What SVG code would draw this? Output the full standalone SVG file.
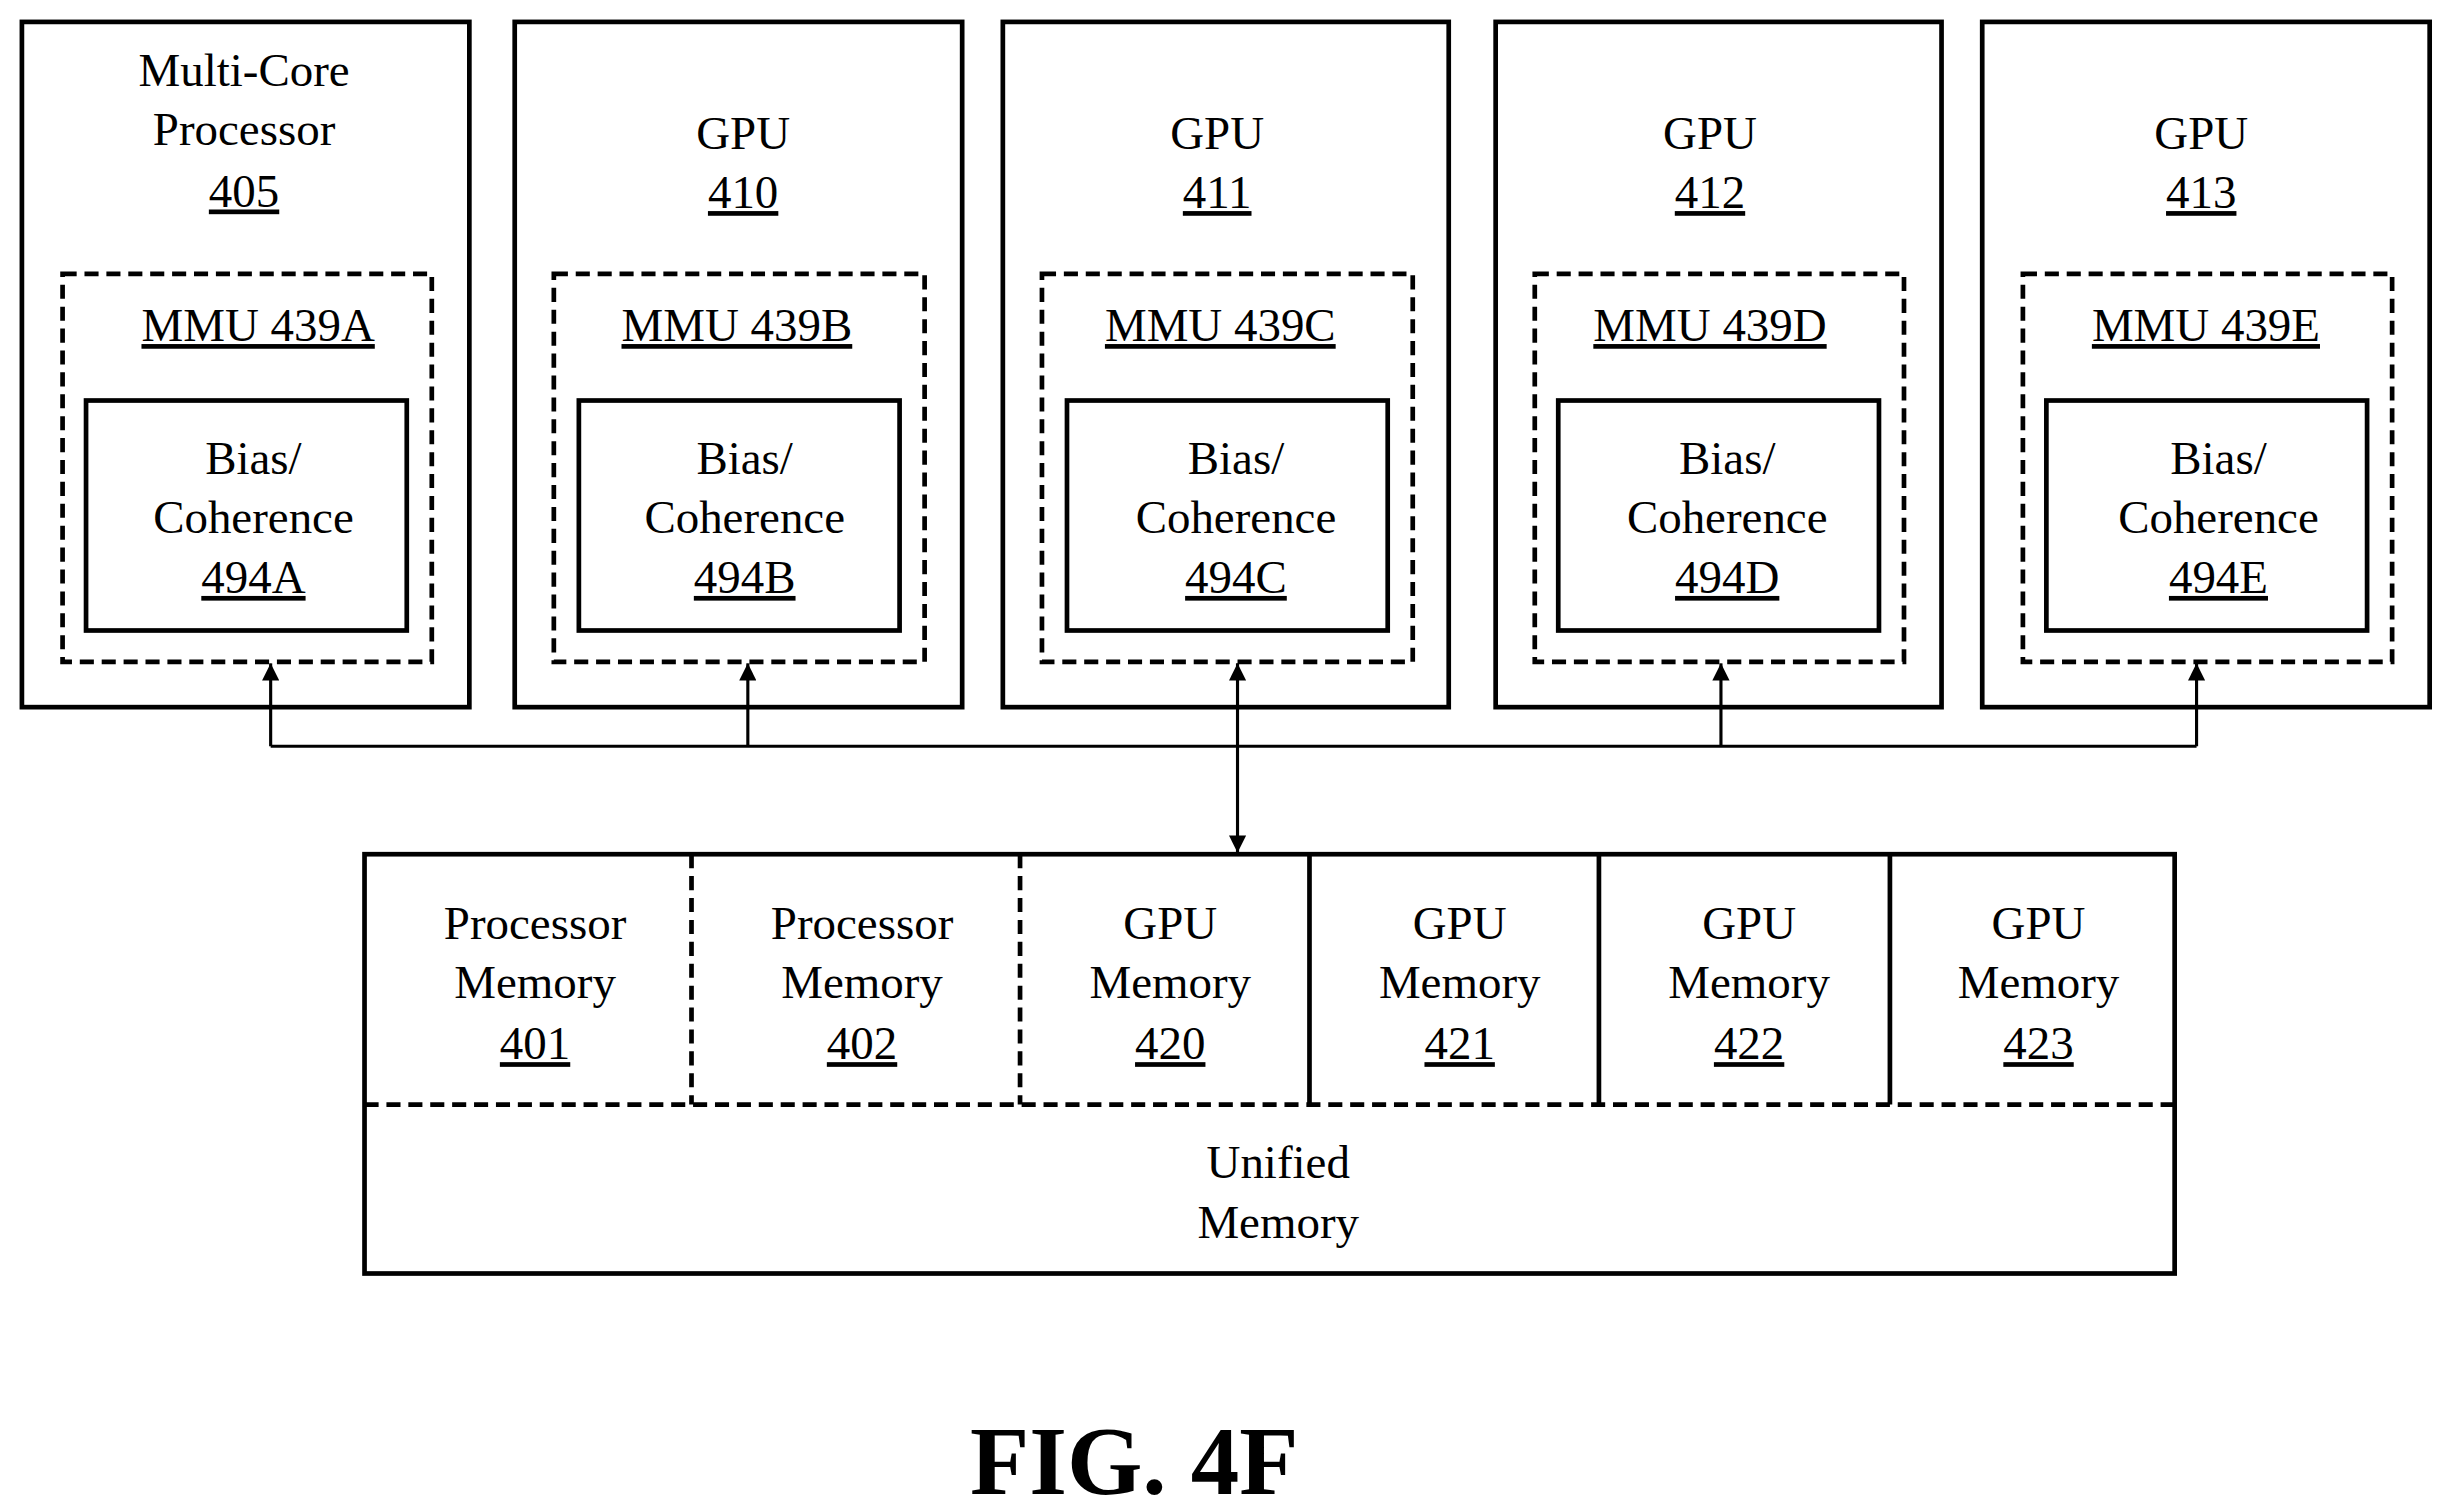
<svg xmlns="http://www.w3.org/2000/svg" width="2453" height="1511" viewBox="0 0 2453 1511">
<defs>
<marker id="ah" viewBox="0 0 10 10" refX="10" refY="5" markerWidth="14" markerHeight="11" orient="auto-start-reverse" markerUnits="userSpaceOnUse"><path d="M0,0 L10,5 L0,10 z" fill="#000"/></marker>
<style>
.s{fill:#fff;stroke:#000;stroke-width:3}
.d{fill:none;stroke:#000;stroke-width:3;stroke-dasharray:9,5}
.l{fill:none;stroke:#000;stroke-width:2}
text{font-family:"Liberation Serif","Times New Roman",serif;font-size:30px;text-anchor:middle;fill:#000}
.u{text-decoration:underline}
</style>
</defs>
<rect width="2453" height="1511" fill="#fff"/>
<g transform="scale(1.5645)">
<g id="n405"><rect class="s" x="14" y="14" width="286" height="438"/><text x="156" y="55">Multi-Core</text><text x="156" y="93">Processor</text><text class="u" x="156" y="132">405</text>
<rect class="d" x="40" y="175" width="236" height="248"/><text class="u" x="165" y="218">MMU 439A</text>
<rect class="s" x="55" y="256" width="205" height="147"/><text x="162" y="303">Bias/</text><text x="162" y="341">Coherence</text><text class="u" x="162" y="379">494A</text></g>
<g id="n410"><rect class="s" x="329" y="14" width="286" height="438"/><text x="475" y="95">GPU</text><text class="u" x="475" y="133">410</text>
<rect class="d" x="354" y="175" width="237" height="248"/><text class="u" x="471" y="218">MMU 439B</text>
<rect class="s" x="370" y="256" width="205" height="147"/><text x="476" y="303">Bias/</text><text x="476" y="341">Coherence</text><text class="u" x="476" y="379">494B</text></g>
<g id="n411"><rect class="s" x="641" y="14" width="285" height="438"/><text x="778" y="95">GPU</text><text class="u" x="778" y="133">411</text>
<rect class="d" x="666" y="175" width="237" height="248"/><text class="u" x="780" y="218">MMU 439C</text>
<rect class="s" x="682" y="256" width="205" height="147"/><text x="790" y="303">Bias/</text><text x="790" y="341">Coherence</text><text class="u" x="790" y="379">494C</text></g>
<g id="n412"><rect class="s" x="956" y="14" width="285" height="438"/><text x="1093" y="95">GPU</text><text class="u" x="1093" y="133">412</text>
<rect class="d" x="981" y="175" width="236" height="248"/><text class="u" x="1093" y="218">MMU 439D</text>
<rect class="s" x="996" y="256" width="205" height="147"/><text x="1104" y="303">Bias/</text><text x="1104" y="341">Coherence</text><text class="u" x="1104" y="379">494D</text></g>
<g id="n413"><rect class="s" x="1267" y="14" width="286" height="438"/><text x="1407" y="95">GPU</text><text class="u" x="1407" y="133">413</text>
<rect class="d" x="1293" y="175" width="236" height="248"/><text class="u" x="1410" y="218">MMU 439E</text>
<rect class="s" x="1308" y="256" width="205" height="147"/><text x="1418" y="303">Bias/</text><text x="1418" y="341">Coherence</text><text class="u" x="1418" y="379">494E</text></g>
<g id="mem">
<rect class="s" x="233" y="546" width="1157" height="268"/>
<line class="d" x1="233" y1="706" x2="1390" y2="706"/>
<line class="d" x1="442" y1="546" x2="442" y2="706"/>
<line class="d" x1="652" y1="546" x2="652" y2="706"/>
<line class="s" x1="837" y1="546" x2="837" y2="706"/>
<line class="s" x1="1022" y1="546" x2="1022" y2="706"/>
<line class="s" x1="1208" y1="546" x2="1208" y2="706"/>
<text x="342" y="600">Processor</text><text x="342" y="638">Memory</text><text class="u" x="342" y="677">401</text>
<text x="551" y="600">Processor</text><text x="551" y="638">Memory</text><text class="u" x="551" y="677">402</text>
<text x="748" y="600">GPU</text><text x="748" y="638">Memory</text><text class="u" x="748" y="677">420</text>
<text x="933" y="600">GPU</text><text x="933" y="638">Memory</text><text class="u" x="933" y="677">421</text>
<text x="1118" y="600">GPU</text><text x="1118" y="638">Memory</text><text class="u" x="1118" y="677">422</text>
<text x="1303" y="600">GPU</text><text x="1303" y="638">Memory</text><text class="u" x="1303" y="677">423</text>
<text x="817" y="753">Unified</text><text x="817" y="791">Memory</text>
</g>
<g id="connectors">
<line class="l" x1="173" y1="477" x2="1404" y2="477"/>
<line class="l" x1="173" y1="477" x2="173" y2="424" marker-end="url(#ah)"/>
<line class="l" x1="478" y1="477" x2="478" y2="424" marker-end="url(#ah)"/>
<line class="l" x1="1100" y1="477" x2="1100" y2="424" marker-end="url(#ah)"/>
<line class="l" x1="1404" y1="477" x2="1404" y2="424" marker-end="url(#ah)"/>
<line class="l" x1="791" y1="424" x2="791" y2="545" marker-start="url(#ah)" marker-end="url(#ah)"/>
</g>
<text x="725" y="955" style="font-size:62px;font-weight:bold">FIG. 4F</text>
</g>
</svg>
